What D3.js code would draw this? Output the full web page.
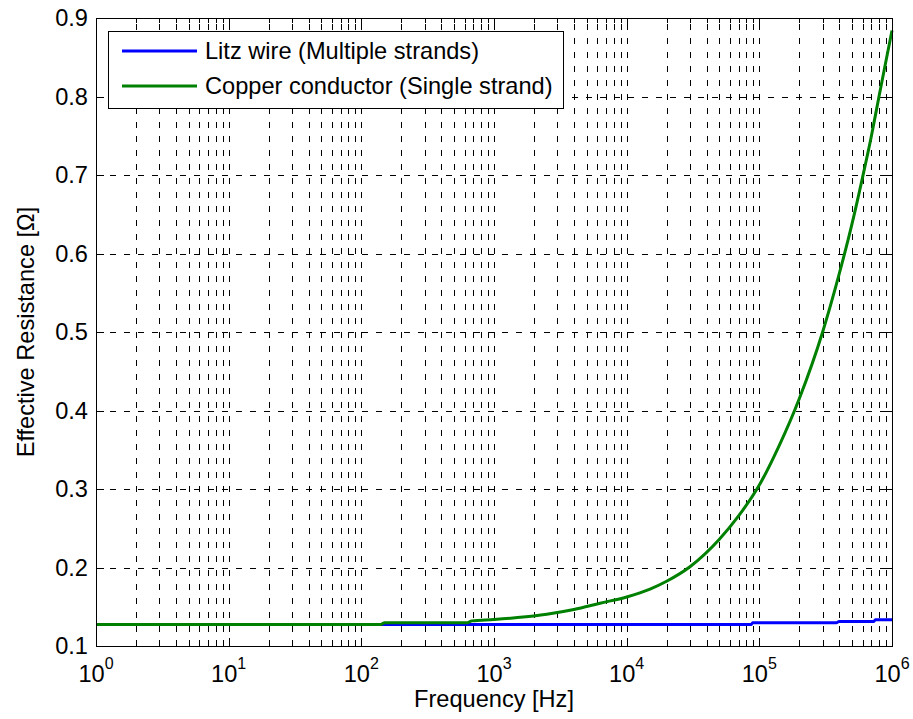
<!DOCTYPE html>
<html>
<head>
<meta charset="utf-8">
<script src="https://cdn.jsdelivr.net/npm/d3@7"></script>
<style>
  html, body { margin: 0; padding: 0; background: #fff; }
  svg { display: block; }
  text { font-family: "Liberation Sans", Arial, Helvetica, sans-serif; fill: #000; }
</style>
</head>
<body>
<svg id="chart" width="913" height="719"></svg>
<script>
// ---------- data ----------
const xTickValues = [1, 10, 100, 1000, 10000, 100000, 1000000];
const xTickExponents = ["0", "1", "2", "3", "4", "5", "6"];
const yTickValues = [0.1, 0.2, 0.3, 0.4, 0.5, 0.6, 0.7, 0.8, 0.9];
const yTickLabels = ["0.1", "0.2", "0.3", "0.4", "0.5", "0.6", "0.7", "0.8", "0.9"];

const litzFreq = [1, 87000, 89000, 380000, 400000, 730000, 750000, 1000000];
const litzR    = [0.1275, 0.1275, 0.1295, 0.1295, 0.1313, 0.1313, 0.1335, 0.1335];

const copperFreq = [1, 10, 100, 140, 150, 630, 680, 1000, 1500, 2500, 4000, 6300, 10000, 15000,
                    20000, 30000, 50000, 70000, 100000, 140000, 200000, 300000, 400000, 500000,
                    600000, 700000, 800000, 900000, 1000000];
const copperR    = [0.1275, 0.1275, 0.1275, 0.1275, 0.1295, 0.1295, 0.132, 0.1338, 0.1362, 0.1405, 0.1465, 0.1545, 0.1625, 0.1725,
                    0.1825, 0.201, 0.236, 0.266, 0.305, 0.354, 0.415, 0.500, 0.574, 0.638,
                    0.697, 0.750, 0.801, 0.845, 0.884];

const seriesNames = ["Litz wire (Multiple strands)", "Copper conductor (Single strand)"];
const seriesColors = ["#0000ff", "#008000"];

// ---------- layout ----------
const L = 96, R = 892, T = 18, B = 646;
const FS = 23.6;
const svg = d3.select("#chart");

const x = d3.scaleLog().domain([1, 1e6]).range([L, R]);
const y = d3.scaleLinear().domain([0.1, 0.9]).range([B, T]);

// minor positions
const xAll = [];
for (let k = 0; k < 6; k++) for (let m = 1; m <= 9; m++) xAll.push(m * Math.pow(10, k));
xAll.push(1e6);
const xMinor = xAll.filter(v => !xTickValues.includes(v));

// ---------- grid ----------
const grid = svg.append("g").attr("stroke", "#000").attr("stroke-width", 1)
  .attr("stroke-dasharray", "6,8").attr("fill", "none").attr("shape-rendering", "crispEdges");
grid.selectAll("line.v").data(xAll.filter(v => v > 1 && v < 1e6)).enter().append("line")
  .attr("x1", d => Math.round(x(d)) + 0.5).attr("x2", d => Math.round(x(d)) + 0.5)
  .attr("y1", B).attr("y2", T);
grid.selectAll("line.h").data(yTickValues.filter(v => v > 0.1 && v < 0.9)).enter().append("line")
  .attr("y1", d => Math.round(y(d)) + 0.5).attr("y2", d => Math.round(y(d)) + 0.5)
  .attr("x1", L).attr("x2", R);

// ---------- axes ticks ----------
function styleAxis(g) {
  g.select(".domain").remove();
  g.selectAll("line").attr("stroke", "#000").attr("shape-rendering", "crispEdges");
  g.selectAll("text").attr("font-size", FS).attr("font-family", "Liberation Sans, Arial, sans-serif");
}
svg.append("g").attr("transform", `translate(0,${B})`)
  .call(d3.axisBottom(x).tickValues(xTickValues).tickSize(-8).tickFormat("")).call(styleAxis);
svg.append("g").attr("transform", `translate(0,${B})`)
  .call(d3.axisBottom(x).tickValues(xMinor).tickSize(-5).tickFormat("")).call(styleAxis);
svg.append("g").attr("transform", `translate(0,${T})`)
  .call(d3.axisTop(x).tickValues(xTickValues).tickSize(-8).tickFormat("")).call(styleAxis);
svg.append("g").attr("transform", `translate(0,${T})`)
  .call(d3.axisTop(x).tickValues(xMinor).tickSize(-5).tickFormat("")).call(styleAxis);
svg.append("g").attr("transform", `translate(${L},0)`)
  .call(d3.axisLeft(y).tickValues(yTickValues).tickSize(-8).tickPadding(8)
    .tickFormat((d, i) => yTickLabels[i])).call(styleAxis);
svg.append("g").attr("transform", `translate(${R},0)`)
  .call(d3.axisRight(y).tickValues(yTickValues).tickSize(-8).tickFormat("")).call(styleAxis);

// x tick labels with superscripts
const xl = svg.append("g");
xTickValues.forEach((v, i) => {
  const t = xl.append("text").attr("x", x(v)).attr("y", 682)
    .attr("text-anchor", "middle").attr("font-size", FS);
  t.append("tspan").text("10");
  t.append("tspan").attr("dy", -13).attr("font-size", 16).text(xTickExponents[i]);
});

// ---------- lines ----------
const line = d3.line().x(d => x(d[0])).y(d => y(d[1])).curve(d3.curveMonotoneX);
const litz = litzFreq.map((f, i) => [f, litzR[i]]);
const copper = copperFreq.map((f, i) => [f, copperR[i]]);
svg.append("path").datum(litz).attr("d", line).attr("fill", "none")
  .attr("stroke", seriesColors[0]).attr("stroke-width", 3).attr("stroke-linejoin", "round");
svg.append("path").datum(copper).attr("d", line).attr("fill", "none")
  .attr("stroke", seriesColors[1]).attr("stroke-width", 3).attr("stroke-linejoin", "round");

// ---------- box ----------
svg.append("rect").attr("x", L + 0.5).attr("y", T + 0.5).attr("width", R - L).attr("height", B - T)
  .attr("fill", "none").attr("stroke", "#000").attr("stroke-width", 1);

// ---------- axis titles ----------
svg.append("text").attr("x", (L + R) / 2).attr("y", 707).attr("text-anchor", "middle")
  .attr("font-size", FS).text("Frequency [Hz]");
svg.append("text").attr("transform", `translate(34,${(T + B) / 2}) rotate(-90)`)
  .attr("text-anchor", "middle").attr("font-size", FS).text("Effective Resistance [Ω]");

// ---------- legend ----------
const lg = svg.append("g");
lg.append("rect").attr("x", 108.5).attr("y", 31.5).attr("width", 455).attr("height", 77)
  .attr("fill", "#fff").attr("stroke", "#000").attr("stroke-width", 1);
seriesNames.forEach((name, i) => {
  const yy = 51 + i * 35;
  lg.append("line").attr("x1", 122).attr("x2", 197).attr("y1", yy).attr("y2", yy)
    .attr("stroke", seriesColors[i]).attr("stroke-width", 3);
  lg.append("text").attr("x", 205).attr("y", yy + 8).attr("font-size", FS).text(name);
});
</script>
</body>
</html>
